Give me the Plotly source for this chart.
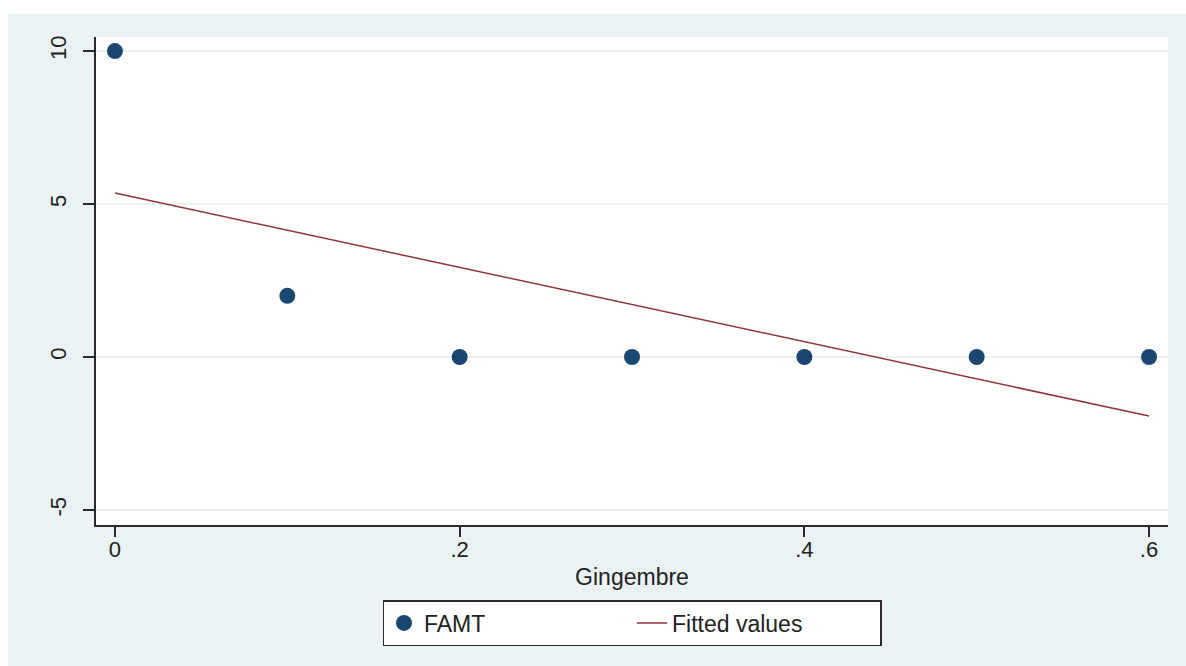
import plotly.graph_objects as go

# Data
gingembre = [0.0, 0.1, 0.2, 0.3, 0.4, 0.5, 0.6]
famt = [10, 2, 0, 0, 0, 0, 0]
fit_x = [0.0, 0.6]
fit_y = [5.36, -1.93]

x_tickvals = [0, 0.2, 0.4, 0.6]
x_ticktext = ["0", ".2", ".4", ".6"]
y_tickvals = [-5, 0, 5, 10]
y_ticktext = ["-5", "0", "5", "10"]

BG = "#eaf2f3"
AX = "#2b2b2b"
FONT = "Liberation Sans, Arial, sans-serif"

fig = go.Figure()
fig.add_trace(go.Scatter(
    x=gingembre, y=famt, mode="markers", name="FAMT",
    marker=dict(color="#1a476f", size=16, line=dict(width=0)),
    cliponaxis=False,
))
fig.add_trace(go.Scatter(
    x=fit_x, y=fit_y, mode="lines", name="Fitted values",
    line=dict(color="#90353b", width=1.5),
))

W, H = 1186, 666
L, R, T, B = 96, 18, 37, 141
pw, ph = W - L - R, H - T - B

# white strips at top and left of the figure (outside graph region)
fig.add_shape(type="rect", xref="paper", yref="paper",
              x0=-0.2, x1=1.2, y0=(H - B - 14) / ph, y1=1.3,
              fillcolor="white", line=dict(width=0), layer="below")
fig.add_shape(type="rect", xref="paper", yref="paper",
              x0=-0.2, x1=(8 - L) / pw, y0=-0.5, y1=1.3,
              fillcolor="white", line=dict(width=0), layer="below")

fig.update_layout(
    width=W, height=H,
    margin=dict(l=L, r=R, t=T, b=B, pad=0),
    paper_bgcolor=BG, plot_bgcolor="white",
    font=dict(family=FONT, size=22, color="#222"),
    showlegend=True,
    legend=dict(
        orientation="h", x=0.5, xanchor="center",
        y=-(600 - (H - B)) / ph, yanchor="top",
        bgcolor="white", bordercolor=AX, borderwidth=1.5,
        font=dict(family=FONT, size=23, color="#222"),
        entrywidth=203, entrywidthmode="pixels",
    ),
    xaxis=dict(
        range=[-0.011, 0.611], tickvals=x_tickvals, ticktext=x_ticktext,
        showgrid=False, zeroline=False, showline=True, linecolor=AX, linewidth=1.5,
        ticks="outside", ticklen=10, tickwidth=1.5, tickcolor=AX,
        tickfont=dict(size=22), ticklabelstandoff=-6,
        title=dict(text="Gingembre", font=dict(size=23), standoff=8),
    ),
    yaxis=dict(
        range=[-5.49, 10.46], tickvals=y_tickvals, ticktext=y_ticktext,
        tickangle=-90, ticklabelstandoff=8,
        showgrid=True, gridcolor=BG, gridwidth=1.5, zeroline=False,
        showline=True, linecolor=AX, linewidth=1.5,
        ticks="outside", ticklen=11, tickwidth=1.5, tickcolor=AX,
        tickfont=dict(size=22),
    ),
)

fig.write_html("out.html")
